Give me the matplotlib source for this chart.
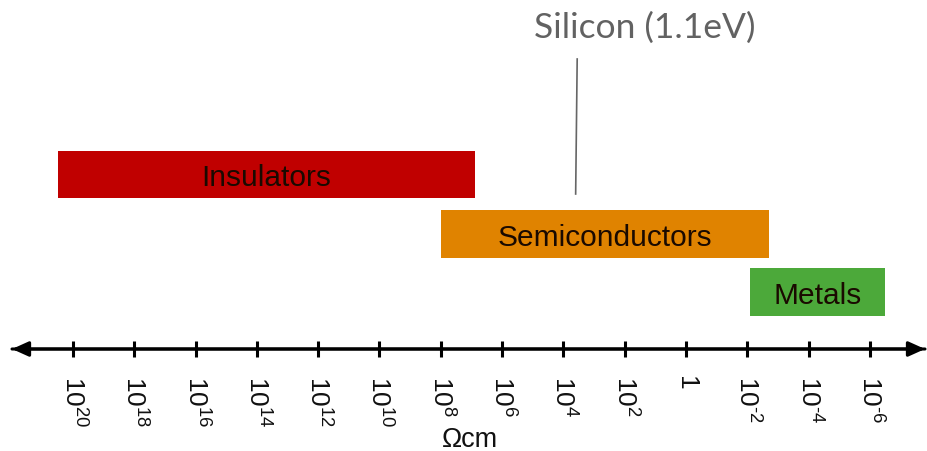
import matplotlib
matplotlib.use("Agg")
import matplotlib.pyplot as plt

# ---- data ----
tick_exponents = [20, 18, 16, 14, 12, 10, 8, 6, 4, 2, 0, -2, -4, -6]
tick_labels = [r"$10^{20}$", r"$10^{18}$", r"$10^{16}$", r"$10^{14}$", r"$10^{12}$",
               r"$10^{10}$", r"$10^{8}$", r"$10^{6}$", r"$10^{4}$", r"$10^{2}$",
               "1", r"$10^{\text{-}2}$", r"$10^{\text{-}4}$", r"$10^{\text{-}6}$"]
bands = ["Insulators", "Semiconductors", "Metals"]
band_high = [20.5, 8.0, -2.1]   # log10(resistivity) upper end
band_low = [6.9, -2.7, -6.5]    # log10(resistivity) lower end
band_colors = ["#C00000", "#E08300", "#4CA93A"]
silicon_exp = 3.55
silicon_label = "Silicon (1.1eV)"
axis_label = "Ωcm"

plt.rcParams["mathtext.fontset"] = "custom"
plt.rcParams["mathtext.rm"] = "Liberation Sans"
plt.rcParams["mathtext.it"] = "Liberation Sans"
plt.rcParams["font.family"] = ["Liberation Sans", "DejaVu Sans"]

fig = plt.figure(figsize=(9.28, 4.52), dpi=100)
ax = fig.add_axes([0, 0, 1, 1])
ax.set_axis_off()
# x in decades (inverted), y in pixel-like units from top
px_per_dec = 30.65
x0_px = 73
ax.set_xlim(20 + x0_px / px_per_dec, 20 - (928 - x0_px) / px_per_dec)
ax.set_ylim(452, 0)

band_y = [175.5, 235, 293]
band_h = 47.5
for name, hi, lo, c, y in zip(bands, band_high, band_low, band_colors, band_y):
    ax.barh(y, lo - hi, left=hi, height=band_h, color=c, edgecolor="none")
    ax.text((hi + lo) / 2, y + 3, name, ha="center", va="center",
            fontsize=21.5, color="#1a0a00")

# axis with arrows
xl, xr = ax.get_xlim()
ax.annotate("", xy=(xl - 12 / px_per_dec, 350),
            xytext=(xr + 3 / px_per_dec, 350),
            arrowprops=dict(arrowstyle="-|>,head_length=1.0,head_width=0.45",
                            color="black", lw=2.2, shrinkA=0, shrinkB=0))
ax.annotate("", xy=(xr + 3 / px_per_dec, 350),
            xytext=(xl - 12 / px_per_dec, 350),
            arrowprops=dict(arrowstyle="-|>,head_length=1.0,head_width=0.45",
                            color="black", lw=2.2, shrinkA=0, shrinkB=0))
for e, lab in zip(tick_exponents, tick_labels):
    ax.plot([e, e], [342, 358], color="black", lw=2.2, solid_capstyle="butt")
    ax.text(e, 376, lab, rotation=-90, ha="center", va="top", fontsize=19,
            color="#111111")

ax.text(7.05, 447, axis_label, ha="center", va="baseline", fontsize=19.5,
        color="#111111")

# silicon marker
ax.plot([silicon_exp, silicon_exp + 0.05], [60, 195], color="#666666", lw=1.2)
ax.text(silicon_exp - 2.2, 28, silicon_label, ha="center", va="center",
        fontsize=25.5, color="#626262", family=["Lato", "DejaVu Sans"])

fig.savefig("out.png", dpi=100)
